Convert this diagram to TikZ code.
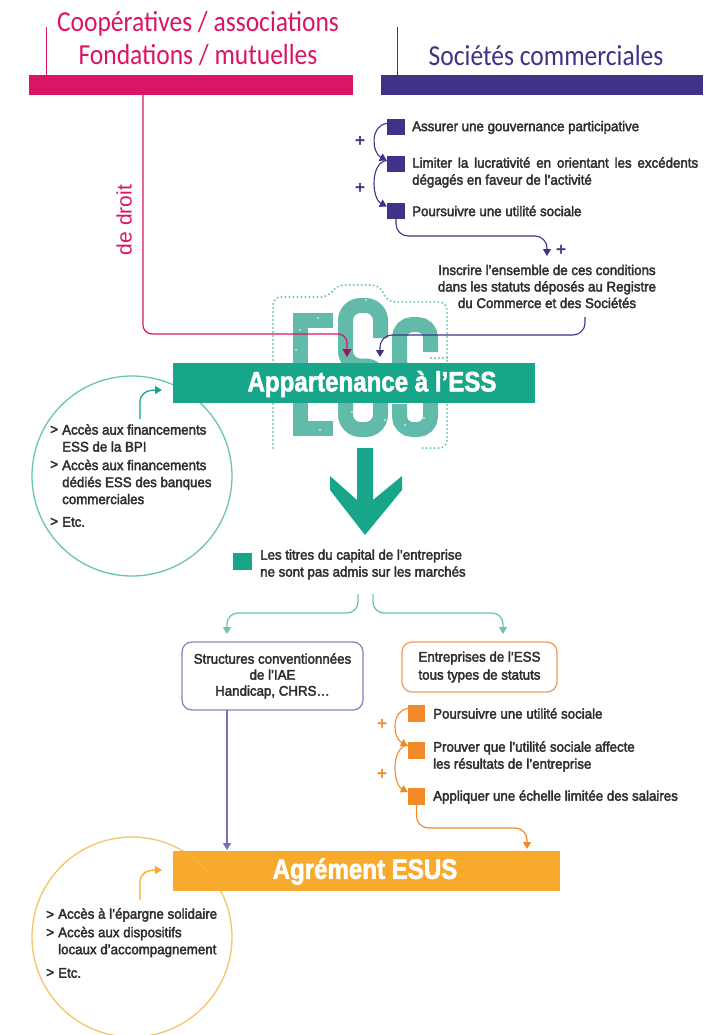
\documentclass[tikz,border=0pt]{standalone}
\usepackage{fontspec}
\usetikzlibrary{arrows.meta}
\newfontfamily\bodyf[FakeStretch=0.95,FakeBold=2.6]{Liberation Sans}
\newfontfamily\hdrf[FakeStretch=0.88]{Carlito}
\newfontfamily\bandf[FakeStretch=0.86,FakeBold=2]{Liberation Sans}
\newfontfamily\droitf{Liberation Sans}
\newfontfamily\plusf[FakeBold=2]{Liberation Sans}
\definecolor{cpink}{HTML}{DC1466}
\definecolor{cpinkdark}{HTML}{A3155F}
\definecolor{cpurple}{HTML}{3F3287}
\definecolor{cteal}{HTML}{17A689}
\definecolor{clteal}{HTML}{6CC4B4}
\definecolor{clogo}{HTML}{62BBAA}
\definecolor{corange}{HTML}{F28A2A}
\definecolor{cband}{HTML}{F7AA2C}
\definecolor{corbox}{HTML}{F39B62}
\definecolor{corcirc}{HTML}{F6B43E}
\definecolor{clav}{HTML}{8D84B9}
\definecolor{clavline}{HTML}{7A6FB2}
\definecolor{ctext}{HTML}{2E2E2E}
\begin{document}
\begin{tikzpicture}[x=1pt,y=-1pt,
  body/.style={font=\bodyf\fontsize{14}{17}\selectfont, text=ctext, inner sep=0pt, align=left},
  hdr/.style={font=\hdrf\fontsize{29}{33}\selectfont, inner sep=0pt, align=center},
  bandtext/.style={font=\bandf\bfseries\fontsize{28}{30}\selectfont, text=white, inner sep=0pt},
  barbox/.style={minimum height=20pt, inner sep=0pt, anchor=north west},
  sqbox/.style={minimum width=18pt, minimum height=16pt, inner sep=0pt},
  plussign/.style={font=\plusf\fontsize{17}{17}\selectfont, inner sep=0pt},
  tipped/.style={-{Triangle[width=8pt,length=7pt]}},
  conn/.style={line width=1.3pt, tipped},
  logostroke/.style={draw=clogo, line width=15pt, rounded corners=15pt, line cap=butt},
  dots/.style={clteal, line width=2.2pt, line cap=round, dash pattern=on 0pt off 4pt},
  roundbox/.style={body, align=center, rounded corners=10pt, line width=1.3pt},
  gt/.style={body, anchor=west}
]
\useasboundingbox (0,0) rectangle (725,1035);
\fill[white] (0,0) rectangle (725,1035);

% ---------- headers ----------
\node[barbox, fill=cpink, minimum width=324pt] (pinkbar) at (29,75) {};
\node[barbox, fill=cpurple, minimum width=322pt] (purplebar) at (381,75) {};
\coordinate (pinktick) at (46,27);
\coordinate (purpletick) at (397,27);
\draw[cpink, line width=1pt] (pinktick) -- (pinktick |- pinkbar.north);
\draw[cpurple, line width=1pt] (purpletick) -- (purpletick |- purplebar.north);
\node[hdr, text=cpink] (coop) at (198,38.5) {Coopératives / associations\\Fondations / mutuelles};
\node[hdr, text=cpurple] (soc) at (546,56) {Sociétés commerciales};

% ---------- ESS logo (drawn shapes) ----------
\fill[clogo] (293,313) rectangle (333,328);
\fill[clogo] (293,313) rectangle (308,436);
\fill[clogo] (293,367) rectangle (327,381);
\fill[clogo] (293,421) rectangle (333,436);
\draw[logostroke] (380.5,338) -- (380.5,305.5) -- (345.5,305.5) -- (345.5,366) -- (380.5,366) -- (380.5,429.5) -- (345.5,429.5) -- (345.5,398);
\draw[logostroke, rounded corners=13pt] (430.5,352) -- (430.5,324.5) -- (399.5,324.5) -- (399.5,374) -- (430.5,374) -- (430.5,429.5) -- (399.5,429.5) -- (399.5,404);
\foreach \px/\py in {300/330,318/318,356/316,372/345,352/412,412/336,424/418,300/400,366/300,405/425,385/420,296/350,320/430,350/380,425/385}
  \fill[white, opacity=0.7] (\px,\py) circle (1.1pt);
\draw[dots, rounded corners=8pt] (273,448) -- (273,297) -- (329,297) -- (336,285) -- (380,285) -- (387,302) -- (447,302) -- (447,448) -- (420,448);
\draw[dots] (431,358) -- (447,358);

% ---------- de droit branch ----------
\node[font=\droitf\fontsize{21}{21}\selectfont, text=cpink, rotate=90, inner sep=0pt] (droit) at (124,220) {de droit};

% ---------- Sociétés commerciales conditions ----------
\node[sqbox, fill=cpurple] (p1) at (396,127.5) {};
\node[sqbox, fill=cpurple] (p2) at (396,164.5) {};
\node[sqbox, fill=cpurple] (p3) at (396,210.5) {};
\node[gt] (pt1) at (412,127.5) {Assurer une gouvernance participative};
\node[gt] (pt2) at (412,172.5) {\makebox[286pt][s]{Limiter la lucrativité en orientant les excédents}\\dégagés en faveur de l’activité};
\node[gt] (pt3) at (412,211) {Poursuivre une utilité sociale};
\node[plussign, text=cpurple] (pplus1) at (360,141) {+};
\node[plussign, text=cpurple] (pplus2) at (360,188) {+};
\node[plussign, text=cpurple] (pplus3) at (561,250) {+};
\draw[conn, cpurple, line width=1.1pt] ([yshift=4pt]p1.west) .. controls +(-17,2) and +(-15,-8) .. ([yshift=4pt]p2.west);
\draw[conn, cpurple, line width=1.1pt] ([yshift=4pt]p2.west) .. controls +(-17,2) and +(-15,-8) .. ([yshift=4pt]p3.west);
\node[body, align=center, font=\bodyf\fontsize{14}{16.5}\selectfont] (inscr) at (547,286.5) {Inscrire l’ensemble de ces conditions\\dans les statuts déposés au Registre\\du Commerce et des Sociétés};
\coordinate (inscrtip) at (547,256);
\draw[conn, cpurple, line width=1.1pt, rounded corners=12pt] (p3.south) -- (396,236) -- (547,236) -- (inscrtip);

% ---------- circles (under bands) ----------
\node[draw=clteal, circle, minimum size=200pt, line width=1.3pt, inner sep=0pt] (tcirc) at (132,476) {};

% ---------- Appartenance band ----------
\node[barbox, fill=cteal, minimum width=362pt, minimum height=40pt] (band) at (173,363) {};
\node[bandtext] (bandtxt) at (372,384) {Appartenance à l’ESS};

\coordinate (pinkstart) at (143,95);
\coordinate (pinktip) at (347,357);
\draw[cpink, line width=1.2pt, rounded corners=9pt, -{Triangle[width=9pt,length=8pt,color=cpinkdark]}] (pinkstart) -- (143,334) -- (347,334) -- (pinktip);
\coordinate (inscrout) at (585,317);
\coordinate (esstip) at (380,357);
\draw[conn, cpurple, line width=1.1pt, rounded corners=12pt] (inscrout) -- (585,335) -- (380,335) -- (esstip);

% teal circle content
\draw[conn, cteal, line width=1.3pt] (140,419) -- (140,402) .. controls (140,393) and (148,390) .. (162,390);
\node[gt] (g1) at (50,430) {>};
\node[gt] (c1) at (62,438) {Accès aux financements\\ESS de la BPI};
\node[gt] (g2) at (50,465) {>};
\node[gt] (c2) at (62,482) {Accès aux financements\\dédiés ESS des banques\\commerciales};
\node[gt] (g3) at (50,522) {>};
\node[gt] (c3) at (62,522) {Etc.};

% ---------- big arrow ----------
\fill[cteal] (357,448) -- (373,448) -- (373,500) -- (402,476) -- (402,490) -- (365,535) -- (330,490) -- (330,476) -- (357,500) -- cycle;

% ---------- capital condition ----------
\node[fill=cteal, minimum width=19pt, minimum height=17pt, inner sep=0pt] (tsq) at (242.5,561.5) {};
\node[gt] (ttxt) at (260,564.5) {Les titres du capital de l’entreprise\\ne sont pas admis sur les marchés};

% ---------- boxes ----------
\node[roundbox, draw=clav, minimum width=181pt, minimum height=68pt, font=\bodyf\fontsize{14}{16}\selectfont] (box1) at (272.5,676) {Structures conventionnées\\de l’IAE\\Handicap, CHRS…};
\node[roundbox, draw=corbox, minimum width=155pt, minimum height=50pt, font=\bodyf\fontsize{14}{18}\selectfont] (box2) at (479.5,667) {Entreprises de l’ESS\\tous types de statuts};
\coordinate (splitL) at (358,594);
\coordinate (splitR) at (373,594);
\coordinate (box1tip) at (227,634);
\coordinate (box2tip) at (503,634);
\draw[conn, clteal, line width=1.3pt, rounded corners=11pt] (splitL) -- (358,613) -- (227,613) -- (box1tip);
\draw[conn, clteal, line width=1.3pt, rounded corners=11pt] (splitR) -- (373,613) -- (503,613) -- (box2tip);

% ---------- ESUS conditions ----------
\node[sqbox, fill=corange, minimum width=17pt, minimum height=17pt] (o1) at (416.5,713.5) {};
\node[sqbox, fill=corange, minimum width=17pt, minimum height=17pt] (o2) at (416.5,750) {};
\node[sqbox, fill=corange, minimum width=17pt, minimum height=17pt] (o3) at (416.5,796) {};
\node[gt] (ot1) at (433,713.5) {Poursuivre une utilité sociale};
\node[gt] (ot2) at (433,756.5) {Prouver que l’utilité sociale affecte\\les résultats de l’entreprise};
\node[gt] (ot3) at (433,797) {Appliquer une échelle limitée des salaires};
\node[plussign, text=corange] (oplus1) at (382,724) {+};
\node[plussign, text=corange] (oplus2) at (382,774) {+};
\draw[conn, corange, line width=1.1pt] ([yshift=5pt]o1.west) .. controls +(-17,2) and +(-15,-8) .. ([yshift=4pt]o2.west);
\draw[conn, corange, line width=1.1pt] ([yshift=5pt]o2.west) .. controls +(-17,2) and +(-15,-8) .. ([yshift=4pt]o3.west);

% ---------- Agrément band ----------
\node[barbox, fill=cband, minimum width=387pt, minimum height=40pt] (esus) at (173,851) {};
\node[bandtext] (esustxt) at (365,871.5) {Agrément ESUS};
\coordinate (box1out) at (227,710);
\coordinate (esustipL) at (227,850);
\draw[conn, clavline, line width=1.3pt] (box1out) -- (esustipL);
\coordinate (esustipR) at (527,849);
\draw[conn, corange, line width=1.2pt, rounded corners=12pt] (o3.south) -- (416.5,828) -- (527,828) -- (esustipR);

% orange circle
\node[draw=corcirc, circle, minimum size=200pt, line width=1.3pt, inner sep=0pt, opacity=0.8] (ocirc) at (132,937) {};
\draw[conn, cband, line width=1.3pt] (140,900) -- (140,882) .. controls (140,873) and (148,870) .. (162,870);
\node[gt] (h1) at (46,915) {>};
\node[gt] (d1) at (58,915) {Accès à l’épargne solidaire};
\node[gt] (h2) at (46,933) {>};
\node[gt] (d2) at (58,942) {Accès aux dispositifs\\locaux d’accompagnement};
\node[gt] (h3) at (46,973) {>};
\node[gt] (d3) at (58,973) {Etc.};
\end{tikzpicture}
\end{document}
